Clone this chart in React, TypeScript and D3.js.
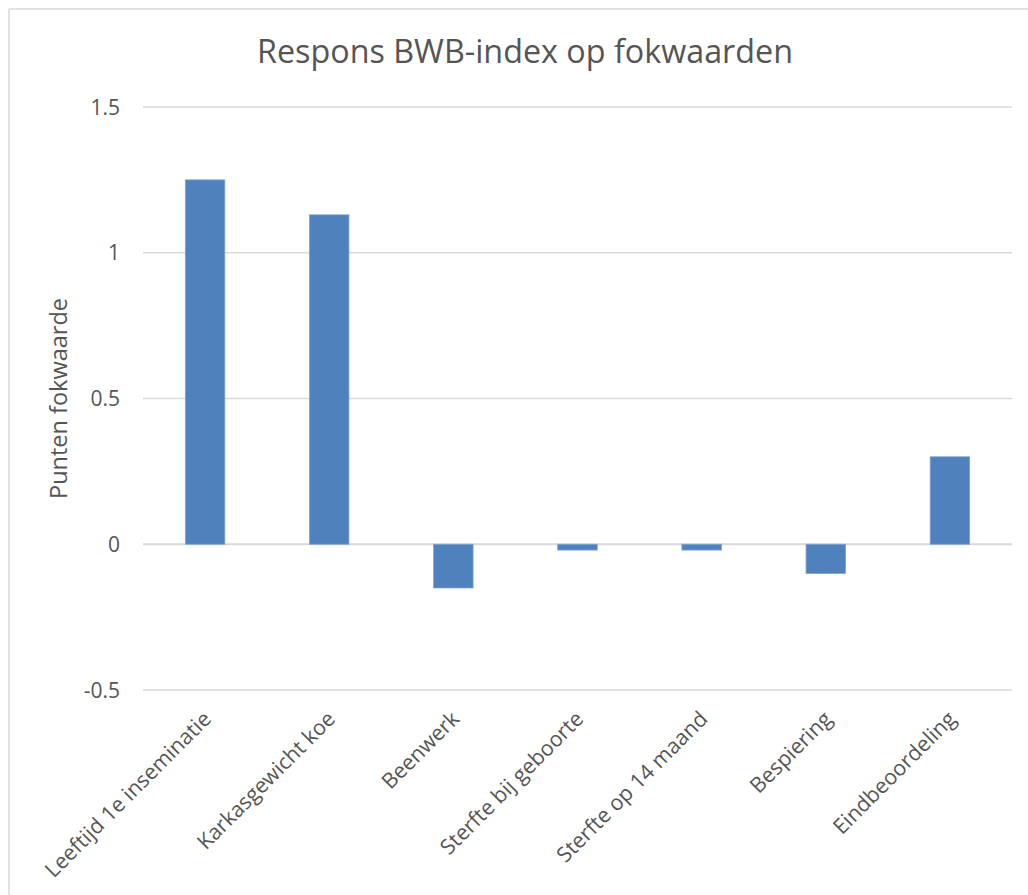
import React from "react";
import * as d3 from "d3";

const categories = [
  "Leeftijd 1e inseminatie",
  "Karkasgewicht koe",
  "Beenwerk",
  "Sterfte bij geboorte",
  "Sterfte op 14 maand",
  "Bespiering",
  "Eindbeoordeling",
];
const values = [1.25, 1.13, -0.15, -0.02, -0.02, -0.1, 0.3];
const yTicks = [-0.5, 0, 0.5, 1, 1.5];
const yTickLabels = ["-0.5", "0", "0.5", "1", "1.5"];
const title = "Respons BWB-index op fokwaarden";
const yTitle = "Punten fokwaarde";

const W = 1028;
const H = 895;
const plot = { left: 143, right: 1012, top: 107, bottom: 690 };
const FONT = "'Open Sans', 'Noto Sans', sans-serif";
const TEXT = "#555555";

export default function App() {
  const x = d3
    .scaleBand<string>()
    .domain(categories)
    .range([plot.left, plot.right])
    .paddingInner(0)
    .paddingOuter(0);
  const y = d3.scaleLinear().domain([-0.5, 1.5]).range([plot.bottom, plot.top]);
  const barW = x.bandwidth() * 0.318;

  return (
    <div style={{ position: "absolute", left: 0, top: 0 }}>
      <svg width={W} height={H} style={{ display: "block", background: "#fff" }}>
        <rect x={0} y={0} width={W} height={H} fill="#fff" />
        <line x1={9} x2={W} y1={9} y2={9} stroke="#d9d9d9" strokeWidth={1.5} />
        <line x1={9} x2={9} y1={9} y2={H} stroke="#d9d9d9" strokeWidth={1.5} />
        <text
          x={525}
          y={63}
          textAnchor="middle"
          fontFamily={FONT}
          fontSize={32.3}
          fill={TEXT}
        >
          {title}
        </text>
        {yTicks.map((t, i) => (
          <g key={t}>
            <line
              x1={plot.left}
              x2={plot.right}
              y1={y(t)}
              y2={y(t)}
              stroke="#d9d9d9"
              strokeWidth={t === 0 ? 2 : 1.3}
            />
            <text
              x={120}
              y={y(t) + 7.5}
              textAnchor="end"
              fontFamily={FONT}
              fontSize={21}
              fill={TEXT}
            >
              {yTickLabels[i]}
            </text>
          </g>
        ))}
        <text
          transform={`translate(67,${(plot.top + plot.bottom) / 2}) rotate(-90)`}
          textAnchor="middle"
          fontFamily={FONT}
          fontSize={23.5}
          fill={TEXT}
        >
          {yTitle}
        </text>
        {categories.map((c, i) => {
          const cx = (x(c) as number) + x.bandwidth() / 2;
          const v = values[i];
          const y0 = y(0);
          const yv = y(v);
          return (
            <rect
              key={c}
              x={cx - barW / 2}
              y={Math.min(y0, yv)}
              width={barW}
              height={Math.abs(yv - y0)}
              fill="#4f81bd"
              stroke="#7ea1cf"
              strokeWidth={0.8}
            />
          );
        })}
        {categories.map((c) => {
          const cx = (x(c) as number) + x.bandwidth() / 2;
          return (
            <text
              key={c}
              transform={`translate(${cx + 2},${plot.bottom + 25}) rotate(-45)`}
              textAnchor="end"
              dy="0.35em"
              fontFamily={FONT}
              fontSize={21.3}
              fill={TEXT}
            >
              {c}
            </text>
          );
        })}
      </svg>
    </div>
  );
}
